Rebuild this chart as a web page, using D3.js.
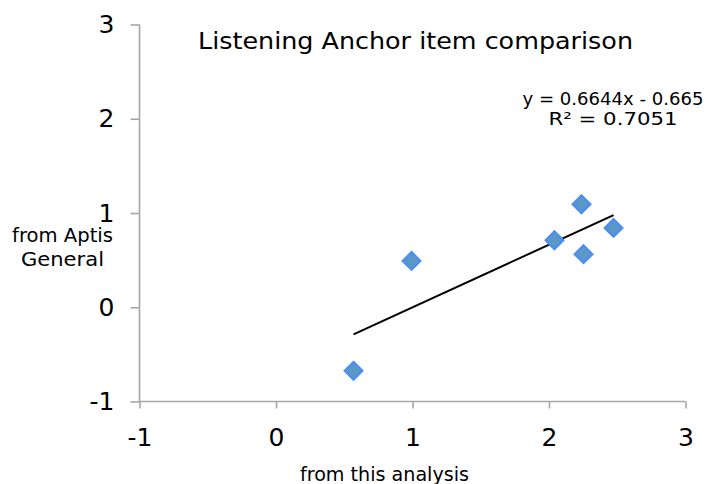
<!DOCTYPE html>
<html>
<head>
<meta charset="utf-8">
<title>Listening Anchor item comparison</title>
<style>
  body { margin: 0; background: #fff; }
  text { font-family: "DejaVu Sans", sans-serif; fill: #000; }
</style>
</head>
<body>
<script src="https://d3js.org/d3.v7.min.js"></script>
<script>
// values
var xThis = [0.568, 0.993, 2.040, 2.238, 2.253, 2.473];
var yAptis = [-0.675, 0.492, 0.711, 1.093, 0.563, 0.842];
var xTicks = [-1, 0, 1, 2, 3];
var yTicks = [-1, 0, 1, 2, 3];
var slope = 0.6644, intercept = -0.665;
var eqLines = ["y = 0.6644x - 0.665", "R\u00b2 = 0.7051"];

var width = 709, height = 484;

var svg = d3.select("body").append("svg")
    .attr("width", width)
    .attr("height", height);

var x = d3.scaleLinear().domain([-1, 3]).range([139.5, 685.5]);
var y = d3.scaleLinear().domain([-1, 3]).range([401.5, 24.5]);

var axisColor = "#a6a6a6";
var fmt = function (d) { return String(d); };  // plain hyphen, like the original

// y axis
var yAxis = svg.append("g")
    .attr("transform", "translate(" + x(-1) + ",0)")
    .call(d3.axisLeft(y).tickValues(yTicks).tickSize(9).tickPadding(16).tickFormat(fmt));
// x axis
var xAxis = svg.append("g")
    .attr("transform", "translate(0," + y(-1) + ")")
    .call(d3.axisBottom(x).tickValues(xTicks).tickSize(7).tickPadding(20).tickFormat(fmt));

[xAxis, yAxis].forEach(function (a) {
    a.select(".domain").attr("stroke", axisColor).attr("stroke-width", 1.6);
    a.selectAll(".tick line").attr("stroke", axisColor).attr("stroke-width", 1.6);
    a.selectAll(".tick text")
        .style("font-family", '"DejaVu Sans", sans-serif')
        .style("font-size", "25px")
        .attr("fill", "#000");
});
xAxis.select(".domain").attr("d", "M" + x(-1) + ",0H" + x(3));
yAxis.select(".domain").attr("d", "M0," + y(-1) + "V" + y(3));

// trendline
var xr = d3.extent(xThis);
svg.append("line")
    .attr("x1", x(xr[0])).attr("y1", y(slope * xr[0] + intercept))
    .attr("x2", x(xr[1])).attr("y2", y(slope * xr[1] + intercept))
    .attr("stroke", "#000")
    .attr("stroke-width", 2);

// diamond markers
var sym = d3.symbol().type(d3.symbolDiamond2).size(190);
svg.append("g").selectAll("path")
    .data(xThis)
    .enter().append("path")
    .attr("d", sym)
    .attr("transform", function (d, i) { return "translate(" + x(d) + "," + y(yAptis[i]) + ")"; })
    .attr("fill", "#5b98c4")
    .attr("stroke", "#4d8ef0")
    .attr("stroke-width", 2.5);

// title
svg.append("text")
    .attr("x", 198).attr("y", 48.5)
    .attr("textLength", 435).attr("lengthAdjust", "spacingAndGlyphs")
    .style("font-size", "23px")
    .text("Listening Anchor item comparison");

// equation
var eqWidths = [181, 129];
svg.append("text")
    .style("font-size", "17px")
    .selectAll("tspan")
    .data(eqLines)
    .enter().append("tspan")
    .attr("x", function (d, i) { return 613 - eqWidths[i] / 2; })
    .attr("y", function (d, i) { return 104.5 + i * 20; })
    .attr("textLength", function (d, i) { return eqWidths[i]; })
    .attr("lengthAdjust", "spacingAndGlyphs")
    .text(function (d) { return d; });

// axis titles
var yTitle = ["from Aptis", "General"], yTitleW = [101, 83];
yTitle.forEach(function (t, i) {
    svg.append("text")
        .attr("x", 62.5 - yTitleW[i] / 2)
        .attr("y", 242 + i * 24)
        .attr("textLength", yTitleW[i]).attr("lengthAdjust", "spacingAndGlyphs")
        .style("font-size", "19px")
        .text(t);
});

svg.append("text")
    .attr("x", 300).attr("y", 481)
    .attr("textLength", 169).attr("lengthAdjust", "spacingAndGlyphs")
    .style("font-size", "19px")
    .text("from this analysis");
</script>
</body>
</html>
